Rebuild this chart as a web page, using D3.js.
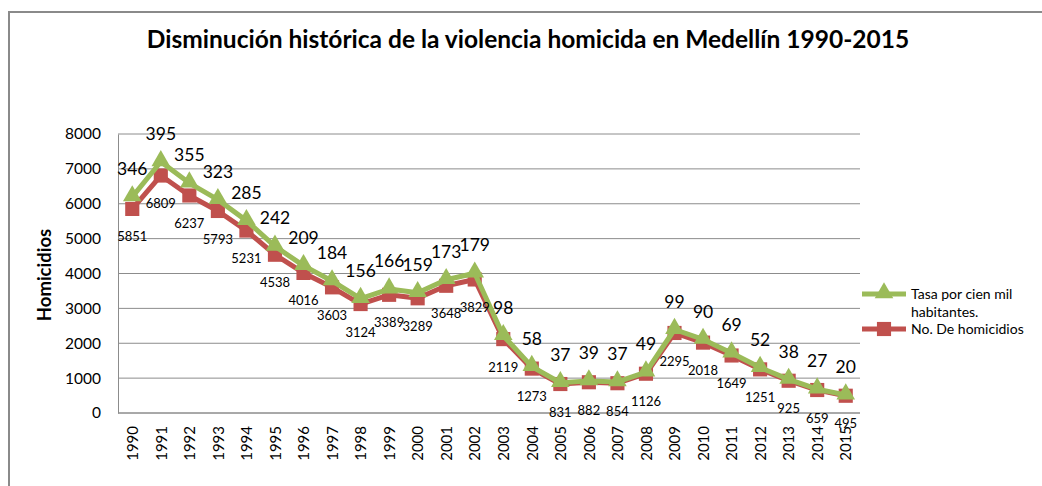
<!DOCTYPE html>
<html>
<head>
<meta charset="utf-8">
<script src="https://cdn.jsdelivr.net/npm/d3@7"></script>
<style>
  body { margin: 0; background: #fff; }
  svg text { font-family: Lato, "Open Sans", sans-serif; fill: #000; }
</style>
</head>
<body>
<div id="chart"></div>
<script>
// data
var years = ["1990","1991","1992","1993","1994","1995","1996","1997","1998","1999","2000","2001","2002",
             "2003","2004","2005","2006","2007","2008","2009","2010","2011","2012","2013","2014","2015"];
var homicidios = [5851, 6809, 6237, 5793, 5231, 4538, 4016, 3603, 3124, 3389, 3289, 3648, 3829,
                  2119, 1273, 831, 882, 854, 1126, 2295, 2018, 1649, 1251, 925, 659, 495];
var tasa = [346, 395, 355, 323, 285, 242, 209, 184, 156, 166, 159, 173, 179,
            98, 58, 37, 39, 37, 49, 99, 90, 69, 52, 38, 27, 20];
var yTicks = [0, 1000, 2000, 3000, 4000, 5000, 6000, 7000, 8000];

var W = 1042, H = 486;
var plot = {left: 118, right: 860, top: 134, bottom: 413};
var red = "#C0504D", green = "#9BBB59";

var svg = d3.select("#chart").append("svg")
  .attr("width", W)
  .attr("height", H);

// outer chart frame
svg.append("path")
  .attr("d", "M9," + H + " L9,12 L" + (W + 5) + ",12")
  .attr("fill", "none")
  .attr("stroke", "#8a8a8a")
  .attr("stroke-width", 2);

var x = d3.scalePoint()
  .domain(years)
  .range([plot.left, plot.right])
  .padding(0.5);

var y = d3.scaleLinear()
  .domain([0, 8000])
  .range([plot.bottom, plot.top]);

// gridlines
svg.append("g")
  .selectAll("line")
  .data(yTicks)
  .enter().append("line")
  .attr("x1", plot.left)
  .attr("x2", plot.right)
  .attr("y1", function(d) { return y(d); })
  .attr("y2", function(d) { return y(d); })
  .attr("stroke", "#8c8c8c")
  .attr("stroke-width", 1);

// y axis
var yAxis = svg.append("g")
  .attr("transform", "translate(" + plot.left + ",0)")
  .call(d3.axisLeft(y).tickValues(yTicks).tickFormat(d3.format("d")).tickSize(0).tickPadding(17));
yAxis.select(".domain").attr("stroke", "#8c8c8c");
yAxis.selectAll("text")
  .style("font-family", "Lato, sans-serif")
  .style("font-size", "15.5px")
  .attr("fill", "#000");

// x axis
var xAxis = svg.append("g")
  .attr("transform", "translate(0," + plot.bottom + ")")
  .call(d3.axisBottom(x).tickSize(0).tickPadding(0));
xAxis.select(".domain").attr("d", "M" + plot.left + ",0H" + plot.right).attr("stroke", "#8c8c8c");
xAxis.selectAll("text")
  .style("font-family", "Lato, sans-serif")
  .style("font-size", "15px")
  .attr("fill", "#000")
  .attr("transform", "translate(0,13) rotate(-90)")
  .attr("text-anchor", "end")
  .attr("x", 0)
  .attr("y", 0)
  .attr("dy", "0.35em");

// stacked line: green sits on top of homicides
var rows = years.map(function(yr, i) {
  return {year: yr, hom: homicidios[i], tasa: tasa[i], top: homicidios[i] + tasa[i]};
});

var lineRed = d3.line()
  .x(function(d) { return x(d.year); })
  .y(function(d) { return y(d.hom); });
var lineGreen = d3.line()
  .x(function(d) { return x(d.year); })
  .y(function(d) { return y(d.top); });

var tri = d3.symbol().type(d3.symbolTriangle).size(150);
var sq = d3.symbol().type(d3.symbolSquare).size(200);

svg.append("path")
  .datum(rows)
  .attr("fill", "none")
  .attr("stroke", red)
  .attr("stroke-width", 5)
  .attr("stroke-linejoin", "round")
  .attr("d", lineRed);

svg.append("g")
  .selectAll("path")
  .data(rows)
  .enter().append("path")
  .attr("d", sq)
  .attr("fill", red)
  .attr("transform", function(d) { return "translate(" + x(d.year) + "," + y(d.hom) + ")"; });

svg.append("path")
  .datum(rows)
  .attr("fill", "none")
  .attr("stroke", green)
  .attr("stroke-width", 5)
  .attr("stroke-linejoin", "round")
  .attr("d", lineGreen);

svg.append("g")
  .selectAll("path")
  .data(rows)
  .enter().append("path")
  .attr("d", tri)
  .attr("fill", green)
  .attr("transform", function(d) { return "translate(" + x(d.year) + "," + (y(d.top) - 1) + ")"; });

// data labels
svg.append("g")
  .selectAll("text")
  .data(rows)
  .enter().append("text")
  .attr("x", function(d) { return x(d.year); })
  .attr("y", function(d) { return y(d.hom) + 28; })
  .attr("dy", "0.35em")
  .attr("text-anchor", "middle")
  .style("font-size", "13px")
  .text(function(d) { return d.hom; });

svg.append("g")
  .selectAll("text")
  .data(rows)
  .enter().append("text")
  .attr("x", function(d) { return x(d.year); })
  .attr("y", function(d) { return y(d.top) - 28; })
  .attr("dy", "0.35em")
  .attr("text-anchor", "middle")
  .style("font-size", "17.5px")
  .text(function(d) { return d.tasa; });

// title
svg.append("text")
  .attr("x", 528)
  .attr("y", 48)
  .attr("text-anchor", "middle")
  .style("font-size", "24.5px")
  .style("font-weight", "bold")
  .text("Disminución histórica de la violencia homicida en Medellín 1990-2015");

// y axis title
svg.append("text")
  .attr("transform", "translate(45,275) rotate(-90)")
  .attr("text-anchor", "middle")
  .attr("dy", "0.35em")
  .style("font-size", "18.5px")
  .style("font-weight", "bold")
  .text("Homicidios");

// legend
var legend = svg.append("g").attr("transform", "translate(862,0)");
legend.append("line")
  .attr("x1", 0).attr("x2", 44).attr("y1", 294).attr("y2", 294)
  .attr("stroke", green).attr("stroke-width", 5);
legend.append("path")
  .attr("d", tri).attr("fill", green)
  .attr("transform", "translate(22,293)");
legend.append("line")
  .attr("x1", 0).attr("x2", 44).attr("y1", 329).attr("y2", 329)
  .attr("stroke", red).attr("stroke-width", 5);
legend.append("path")
  .attr("d", sq).attr("fill", red)
  .attr("transform", "translate(22,329)");
legend.append("text").attr("x", 49).attr("y", 299).style("font-size", "14px").text("Tasa por cien mil");
legend.append("text").attr("x", 49).attr("y", 317).style("font-size", "14px").text("habitantes.");
legend.append("text").attr("x", 49).attr("y", 334).style("font-size", "14px").text("No. De homicidios");
</script>
</body>
</html>
